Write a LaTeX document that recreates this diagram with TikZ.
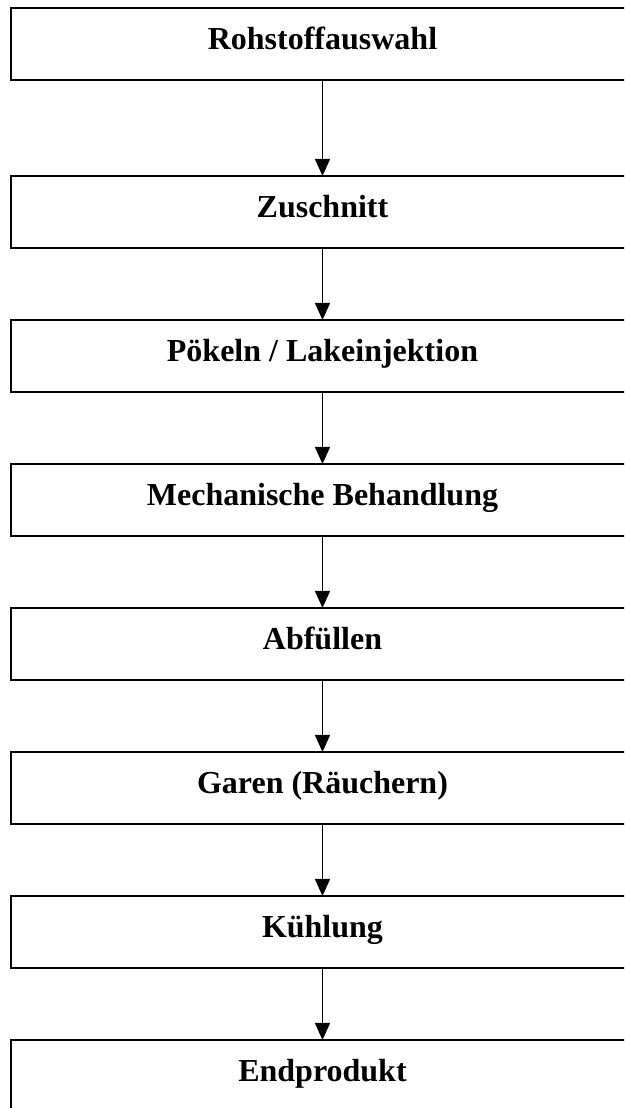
\documentclass[tikz,border=0pt]{standalone}
\usepackage{fontspec}
\setmainfont{Liberation Serif}
\usetikzlibrary{arrows.meta}
\begin{document}
\begin{tikzpicture}[x=1pt,y=-1pt,
  stepbox/.style={draw=black, line width=1.5pt, rectangle, minimum width=623pt, minimum height=72pt,
    inner sep=0pt, text height=20pt, text depth=10pt,
    font=\fontsize{32}{36}\selectfont\bfseries},
  arr/.style={line width=1.5pt, -{Triangle[width=15pt,length=17pt]}, shorten >=-0.7pt}]
\useasboundingbox (0,0) rectangle (624,1108);
\clip (0,0) rectangle (624,1108);
\node[stepbox] (b1) at (322.5,44) {Rohstoffauswahl};
\node[stepbox] (b2) at (322.5,212) {Zuschnitt};
\node[stepbox] (b3) at (322.5,356) {Pökeln / Lakeinjektion};
\node[stepbox] (b4) at (322.5,500) {Mechanische Behandlung};
\node[stepbox] (b5) at (322.5,644) {Abfüllen};
\node[stepbox] (b6) at (322.5,788) {Garen (Räuchern)};
\node[stepbox] (b7) at (322.5,932) {Kühlung};
\node[stepbox] (b8) at (322.5,1076) {Endprodukt};
\draw[arr] (b1.south) -- (b2.north);
\draw[arr] (b2.south) -- (b3.north);
\draw[arr] (b3.south) -- (b4.north);
\draw[arr] (b4.south) -- (b5.north);
\draw[arr] (b5.south) -- (b6.north);
\draw[arr] (b6.south) -- (b7.north);
\draw[arr] (b7.south) -- (b8.north);
\end{tikzpicture}
\end{document}
